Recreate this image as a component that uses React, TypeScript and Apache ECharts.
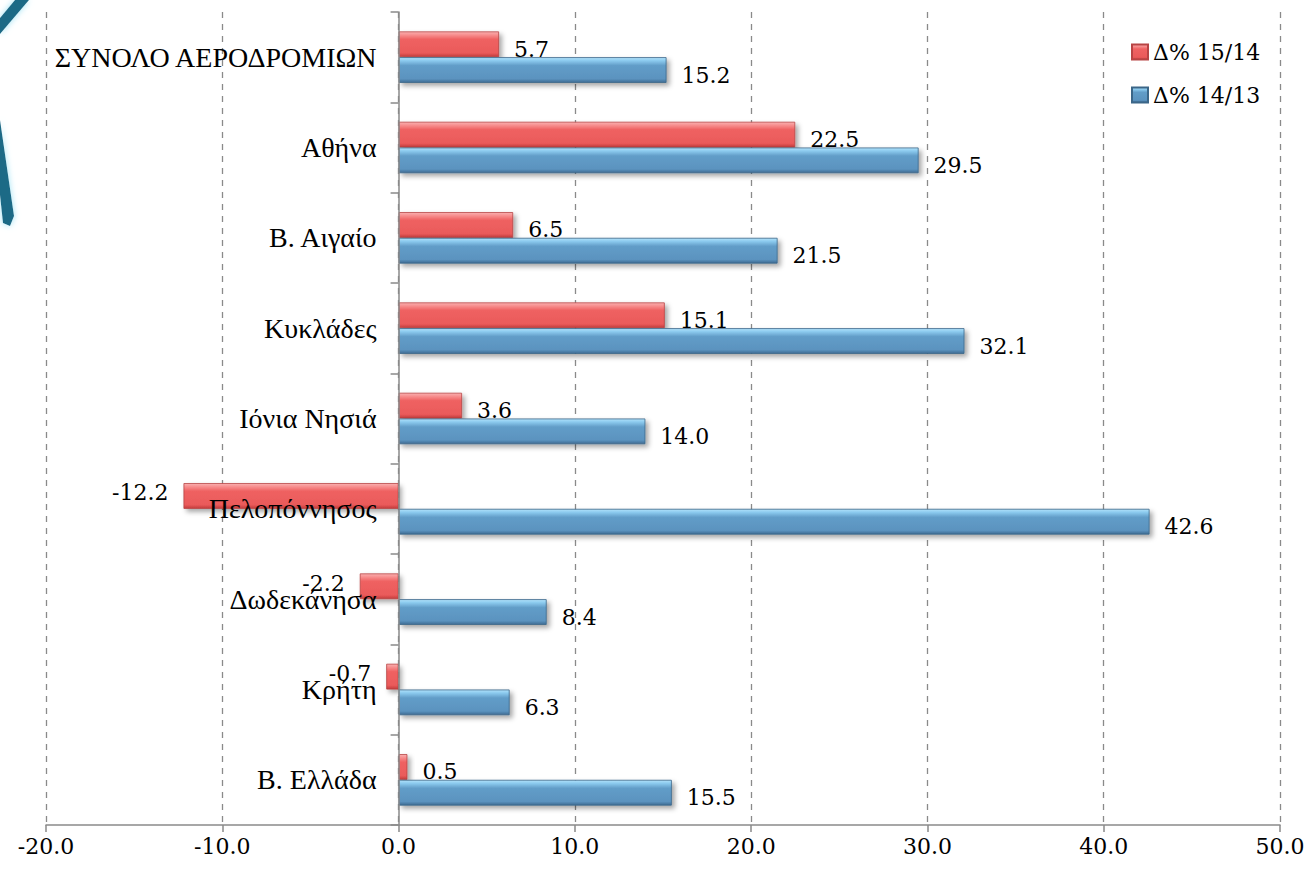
import React, { useEffect, useRef } from "react";
import * as echarts from "echarts";

const categories = [
  "ΣΥΝΟΛΟ ΑΕΡΟΔΡΟΜΙΩΝ",
  "Αθήνα",
  "Β. Αιγαίο",
  "Κυκλάδες",
  "Ιόνια Νησιά",
  "Πελοπόννησος",
  "Δωδεκάνησα",
  "Κρήτη",
  "Β. Ελλάδα",
];
const seriesNames = ["Δ% 15/14", "Δ% 14/13"];
const change1514 = [5.7, 22.5, 6.5, 15.1, 3.6, -12.2, -2.2, -0.7, 0.5];
const change1413 = [15.2, 29.5, 21.5, 32.1, 14.0, 42.6, 8.4, 6.3, 15.5];
const xMin = -20;
const xMax = 50;
const xStep = 10;

const NUM_FONT = "DejaVu Serif";
const CAT_FONT = "Liberation Serif";

const GRID_LEFT = 46;
const GRID_RIGHT = 31;
const WIDTH = 1311;

function grad(stops: [number, string][]) {
  return new echarts.graphic.LinearGradient(
    0, 0, 0, 1,
    stops.map(([offset, color]) => ({ offset, color }))
  );
}

const redFill = () =>
  grad([
    [0, "#f9b0b0"],
    [0.12, "#f79090"],
    [0.3, "#ef6262"],
    [0.85, "#ea5a5a"],
    [1, "#c23c3c"],
  ]);
const blueFill = () =>
  grad([
    [0, "#b2e2fa"],
    [0.12, "#8ccbef"],
    [0.32, "#629dc8"],
    [0.85, "#5b93bf"],
    [1, "#3e6b92"],
  ]);

function toData(values: number[]) {
  return values.map((v) => ({
    value: v,
    label: v < 0 ? { position: "left", offset: [0, -3] } : { position: "right", offset: [0, 5] },
  }));
}

export default function App() {
  const ref = useRef<HTMLDivElement>(null);
  useEffect(() => {
    if (!ref.current) return;
    const chart = echarts.init(ref.current, null, { renderer: "svg" });
    const plotW = WIDTH - GRID_LEFT - GRID_RIGHT;
    const zeroOffset = ((0 - xMin) / (xMax - xMin)) * plotW;
    const labelStyle = {
      show: true,
      distance: 15,
      fontFamily: NUM_FONT,
      fontSize: 22,
      color: "#000",
      formatter: (p: any) => Number(p.value).toFixed(1),
    };
    const shadow = {
      shadowColor: "rgba(0,0,0,0.35)",
      shadowBlur: 5,
      shadowOffsetX: 3,
      shadowOffsetY: 3,
    };
    chart.setOption({
      animation: false,
      backgroundColor: "#fff",
      textStyle: { fontFamily: NUM_FONT },
      grid: {
        left: GRID_LEFT,
        right: GRID_RIGHT,
        top: 12,
        bottom: 44,
        containLabel: false,
        outerBoundsMode: "none",
      },
      legend: {
        orient: "vertical",
        left: 1126,
        top: 36,
        itemWidth: 16,
        itemHeight: 15,
        itemGap: 21,
        icon: "rect",
        textStyle: { fontFamily: NUM_FONT, fontSize: 22, color: "#000" },
        data: seriesNames,
      },
      xAxis: {
        type: "value",
        min: xMin,
        max: xMax,
        interval: xStep,
        position: "bottom",
        axisLine: { show: true, onZero: false, lineStyle: { color: "#8a8a8a", width: 1.5 } },
        axisTick: { show: true, length: 7, lineStyle: { color: "#8a8a8a", width: 1.5 } },
        axisLabel: {
          margin: 10,
          fontFamily: NUM_FONT,
          fontSize: 22,
          color: "#000",
          formatter: (v: number) => v.toFixed(1),
        },
        splitLine: {
          show: true,
          lineStyle: { color: "#8a8a8a", width: 1.3, type: [6, 6] },
        },
      },
      yAxis: {
        type: "category",
        inverse: true,
        data: categories,
        position: "left",
        offset: -zeroOffset,
        z: 5,
        axisLine: { show: true, onZero: false, lineStyle: { color: "#8a8a8a", width: 1.5 } },
        axisTick: { show: true, length: 8, lineStyle: { color: "#8a8a8a", width: 1.5 } },
        axisLabel: {
          margin: 22,
          fontFamily: CAT_FONT,
          fontSize: 28,
          color: "#000",
        },
        splitLine: { show: false },
      },
      graphic: [
        {
          type: "polygon",
          shape: { points: [[0, 18], [0, 34], [29, 0], [15, 0]] },
          style: { fill: "#1b6a86", shadowColor: "#9fe3f5", shadowBlur: 6 },
        },
        {
          type: "polygon",
          shape: { points: [[0, 120], [14, 216], [10, 226], [3, 223], [0, 195]] },
          style: { fill: "#1b6a86", shadowColor: "#9fe3f5", shadowBlur: 6 },
        },
      ],
      series: [
        {
          name: seriesNames[0],
          type: "bar",
          data: toData(change1514),
          barGap: "0%",
          barCategoryGap: "43%",
          itemStyle: { color: redFill(), borderColor: "#b84444", borderWidth: 0.8, ...shadow },
          label: labelStyle,
        },
        {
          name: seriesNames[1],
          type: "bar",
          data: toData(change1413),
          barGap: "0%",
          barCategoryGap: "43%",
          itemStyle: { color: blueFill(), borderColor: "#3b6688", borderWidth: 0.8, ...shadow },
          label: labelStyle,
        },
      ],
    });
    return () => chart.dispose();
  }, []);
  return (
    <div
      ref={ref}
      style={{ position: "absolute", left: 0, top: 0, width: WIDTH, height: 869 }}
    />
  );
}
